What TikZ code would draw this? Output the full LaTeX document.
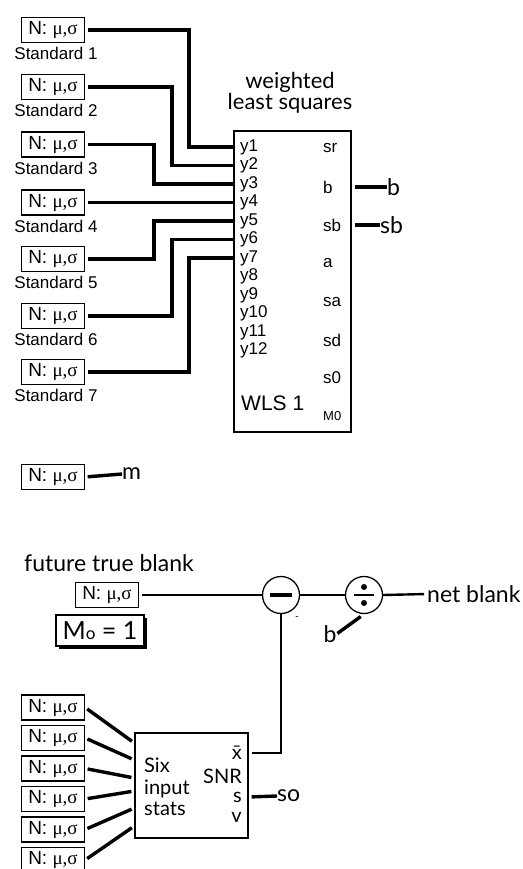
\documentclass[tikz,border=0pt]{standalone}
\usepackage{fontspec}
\setmainfont{Liberation Sans}
\newfontfamily\hum{Lato}
\newfontfamily\grk{Liberation Serif}
\usetikzlibrary{shadows}
\newcommand{\nms}{N: {\grk μ,σ}}

\begin{document}
\begin{tikzpicture}[x=1pt,y=-1pt,
  nbox/.style={draw,line width=1.3pt,minimum width=63pt,minimum height=25pt,inner sep=0pt,font=\fontsize{19}{19}\selectfont},
  wire/.style={line width=3.4pt},
  thinwire/.style={line width=2.4pt},
  alab/.style={font=\fontsize{17}{17}\selectfont,inner sep=0pt},
  hlab/.style={font=\hum\fontsize{23}{23}\selectfont,inner sep=0pt},
  slab/.style={font=\hum\fontsize{20}{20}\selectfont,inner sep=0pt}]
\useasboundingbox (0,0) rectangle (522,869);

% weighted least squares block
\node[draw,line width=1.3pt,minimum width=117pt,minimum height=301pt] (wls) at (292.5,281.5) {};
\node[hlab,align=center,font=\hum\fontsize{22}{19.5}\selectfont] (wlstitle) at (290,93) {weighted\\least squares};
\foreach \k in {1,...,12}
  \node[alab,anchor=west] (y\k) at (240,{147+(\k-1)*18.5}) {y\k};
\foreach \n/\t/\yy in {rsr/sr/148,rb/b/187,rsb/sb/225,ra/a/263,rsa/sa/302,rsd/sd/340,rs0/s0/378}
  \node[alab,anchor=west] (\n) at (323,\yy) {\t};
\node[font=\fontsize{13}{13}\selectfont,inner sep=0pt,anchor=west] (rm0) at (323,416) {M0};
\node[font=\fontsize{21}{21}\selectfont,inner sep=0pt,anchor=west] (wlsname) at (241,403) {WLS 1};

% standards
\foreach \i/\yy in {1/30,2/87,3/144.5,4/202.5,5/259,6/316,7/372} {
  \node[nbox] (s\i) at (53,\yy) {\nms};
  \node[alab] (st\i) at (56,\yy+23.5) {Standard \i};
}
\foreach \i/\bx in {1/189,2/172,3/154,5/154,6/172,7/189}
  \draw[wire,shorten <=2.5pt] (s\i.east) -- (\bx,0 |- s\i.east) |- (wls.west |- y\i.west);
\draw[wire,shorten <=2.5pt] (s4.east) -- (wls.west |- s4.east);

% outputs
\node[hlab,anchor=west] (bout) at (387,187) {b};
\node[hlab,anchor=west] (sbout) at (380,225) {sb};
\draw[wire,shorten <=3pt] (wls.east |- rb) -- (bout.west);
\draw[wire,shorten <=3pt] (wls.east |- rsb) -- (sbout.west);

% m
\node[nbox] (mbox) at (53,477) {\nms};
\node[hlab,anchor=west] (mout) at (122,474) {m};
\draw[wire,shorten <=2.5pt] (mbox.east) -- (mout.west);

% net blank
\node[hlab,anchor=west] (ftb) at (24,563) {future true blank};
\node[nbox] (fbox) at (107,595) {\nms};
\node[draw,line width=1.3pt,fill=white,minimum width=88pt,minimum height=31pt,inner sep=0pt,
  font=\hum\fontsize{25}{25}\selectfont,
  drop shadow={shadow xshift=3pt,shadow yshift=-3pt,opacity=1,fill=black}] (mo) at (100,630.5) {M{\fontsize{17}{17}\selectfont o} = 1};
\node[circle,draw,line width=1.3pt,minimum size=37pt,inner sep=0pt] (minus) at (281,595) {};
\draw[line width=3.5pt] ([xshift=-11pt]minus.center) -- ([xshift=11pt]minus.center);
\node[circle,draw,line width=1.3pt,minimum size=37pt,inner sep=0pt] (divide) at (364,595) {};
\draw[line width=2.5pt] ([xshift=-10pt]divide.center) -- ([xshift=10pt]divide.center);
\fill ([yshift=8pt]divide.center) circle (3pt);
\fill ([yshift=-8pt]divide.center) circle (3pt);
\node[font=\fontsize{10}{10}\selectfont,inner sep=0pt] (neg) at (297,618) {-};
\node[hlab,anchor=west] (netb) at (427,594) {net blank};
\node[hlab] (bin) at (330,634) {b};
\draw[thinwire,shorten <=2.5pt] (fbox.east) -- (minus.west);
\draw[thinwire] (minus.east) -- (divide.west);
\draw[thinwire,shorten >=3pt] (divide.east) -- (netb.west);
\draw[wire,shorten <=4pt,shorten >=1pt] (divide.south) -- (bin.east);

% six input stats
\node[draw,line width=1.3pt,minimum width=113pt,minimum height=105pt] (stats) at (191.5,785.5) {};
\node[slab,align=left,anchor=west,font=\hum\fontsize{20}{21.5}\selectfont] (six) at (144,787) {Six\\input\\stats};
\node[slab,anchor=east] (xb) at (242,753) {\={x}};
\node[slab,anchor=east] (snr) at (242,776) {SNR};
\node[slab,anchor=east] (sv) at (242,797) {s};
\node[slab,anchor=east] (vv) at (242,817) {v};
\node[hlab,anchor=west] (so) at (277,796) {so};
\draw[line width=2.8pt,shorten >=3pt] (minus.south) |- (stats.east |- xb);
\draw[wire,shorten <=3pt] (stats.east |- sv) -- (so.west);
\foreach \k/\yy/\ey in {1/707.5/743,2/738/760,3/768.5/778,4/799/791,5/829.5/808,6/860/826} {
  \node[nbox] (in\k) at (53,\yy) {\nms};
  \draw[wire,shorten <=2.5pt,shorten >=3pt] (in\k.east) -- (stats.west |- 0,\ey);
}
\end{tikzpicture}
\end{document}
